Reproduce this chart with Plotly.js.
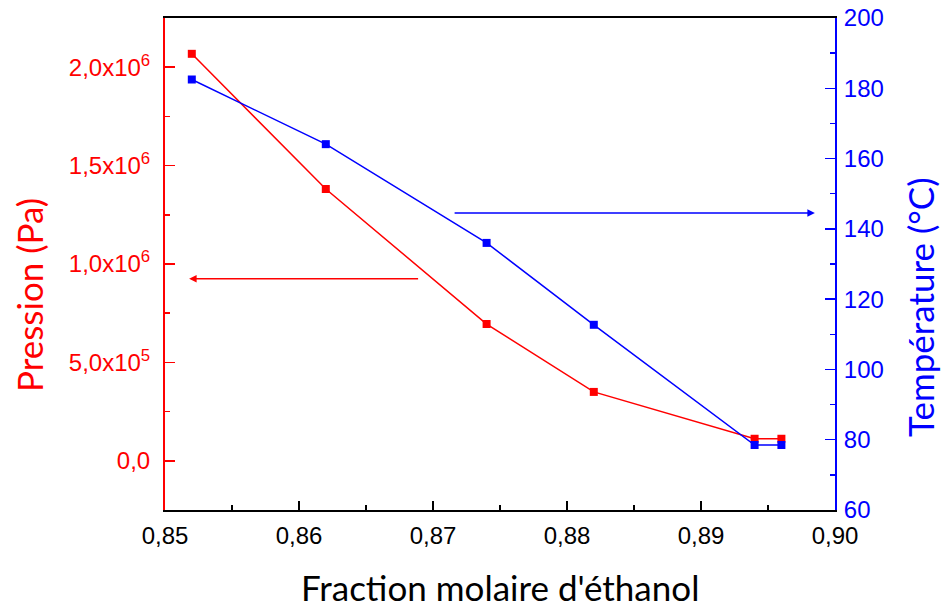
<!DOCTYPE html>
<html><head><meta charset="utf-8">
<script src="https://cdn.plot.ly/plotly-3.0.1.min.js"></script>
<style>html,body{margin:0;padding:0;background:#fff}#chart{width:945px;height:607px}</style>
</head><body><div id="chart"></div>
<script>
const fraction = [0.852, 0.862, 0.874, 0.882, 0.894, 0.896];
const pressure = [2.068e6, 1.381e6, 0.695e6, 0.35e6, 0.112e6, 0.112e6];
const temperature = [182.5, 164.1, 136.0, 112.7, 78.5, 78.5];
const xTicks = [0.85, 0.86, 0.87, 0.88, 0.89, 0.90];
const xTickText = ['0,85', '0,86', '0,87', '0,88', '0,89', '0,90'];
const pTicks = [0, 5e5, 1e6, 1.5e6, 2e6];
const pTickText = ['0,0', '5,0x10<sup>5</sup>', '1,0x10<sup>6</sup>', '1,5x10<sup>6</sup>', '2,0x10<sup>6</sup>'];
const tTicks = [60, 80, 100, 120, 140, 160, 180, 200];
const xTitle = "Fraction molaire d'éthanol";
const pTitle = 'Pression (Pa)';
const tTitle = 'Température (°C)';

const red = '#ff0000', blue = '#0000ff';
const tickFont = {family: 'Liberation Sans, Arial, sans-serif', size: 24};
const titleFamily = 'Lato, sans-serif';

const traces = [
  {x: fraction, y: pressure, yaxis: 'y', type: 'scatter', mode: 'lines+markers',
   line: {color: red, width: 1.5}, marker: {symbol: 'square', size: 8, color: red}},
  {x: fraction, y: temperature, yaxis: 'y2', type: 'scatter', mode: 'lines+markers',
   line: {color: blue, width: 1.5}, marker: {symbol: 'square', size: 8, color: blue}}
];

const layout = {
  width: 945, height: 607,
  margin: {l: 165, r: 110, t: 18, b: 97},
  paper_bgcolor: '#fff', plot_bgcolor: '#fff',
  showlegend: false,
  xaxis: {
    range: [0.85, 0.90], tickvals: xTicks, ticktext: xTickText,
    ticks: 'inside', ticklen: 9, tickwidth: 1.5, tickcolor: '#000',
    minor: {dtick: 0.005, tick0: 0.85, ticks: 'inside', ticklen: 5, tickwidth: 1.5, tickcolor: '#000'},
    showline: true, linecolor: '#000', linewidth: 2, mirror: true,
    showgrid: false, zeroline: false,
    tickfont: Object.assign({color: '#000'}, tickFont), ticklabelstandoff: 3
  },
  yaxis: {
    range: [-2.5e5, 2.25e6], tickvals: pTicks, ticktext: pTickText,
    ticks: 'inside', ticklen: 10, tickwidth: 1.5, tickcolor: red,
    minor: {dtick: 2.5e5, tick0: 0, ticks: 'inside', ticklen: 5, tickwidth: 1.5, tickcolor: red},
    showline: true, linecolor: red, linewidth: 2,
    showgrid: false, zeroline: false,
    tickfont: Object.assign({color: red}, tickFont), ticklabelstandoff: 8
  },
  yaxis2: {
    overlaying: 'y', side: 'right', anchor: 'x',
    range: [60, 200], tickvals: tTicks,
    ticks: 'inside', ticklen: 10, tickwidth: 1.5, tickcolor: blue,
    minor: {dtick: 10, tick0: 60, ticks: 'inside', ticklen: 5, tickwidth: 1.5, tickcolor: blue},
    showline: true, linecolor: blue, linewidth: 2,
    showgrid: false, zeroline: false,
    tickfont: Object.assign({color: blue}, tickFont), ticklabelstandoff: 2
  },
  annotations: [
    {xref: 'x', yref: 'y', axref: 'x', ayref: 'y', x: 0.8518, y: 0.925e6, ax: 0.8690, ay: 0.925e6,
     text: '', showarrow: true, arrowhead: 2, arrowsize: 1, arrowwidth: 1.5, arrowcolor: red},
    {xref: 'x', yref: 'y2', axref: 'x', ayref: 'y2', x: 0.8985, y: 144.5, ax: 0.8715, ay: 144.5,
     text: '', showarrow: true, arrowhead: 2, arrowsize: 1, arrowwidth: 1.5, arrowcolor: blue},
    {xref: 'paper', yref: 'paper', x: 0.5, y: -0.1565, xanchor: 'center', yanchor: 'middle',
     text: xTitle, showarrow: false, font: {family: titleFamily, size: 35, color: '#000'}},
    {xref: 'paper', yref: 'paper', x: (29 - 165) / 670, y: 0.437, xanchor: 'center', yanchor: 'middle',
     text: pTitle, textangle: -90, showarrow: false, font: {family: titleFamily, size: 35, color: red}},
    {xref: 'paper', yref: 'paper', x: (920 - 165) / 670, y: 0.4126, xanchor: 'center', yanchor: 'middle',
     text: tTitle, textangle: -90, showarrow: false, font: {family: titleFamily, size: 35, color: blue}}
  ]
};

Plotly.newPlot('chart', traces, layout, {displayModeBar: false, staticPlot: true});
</script></body></html>
